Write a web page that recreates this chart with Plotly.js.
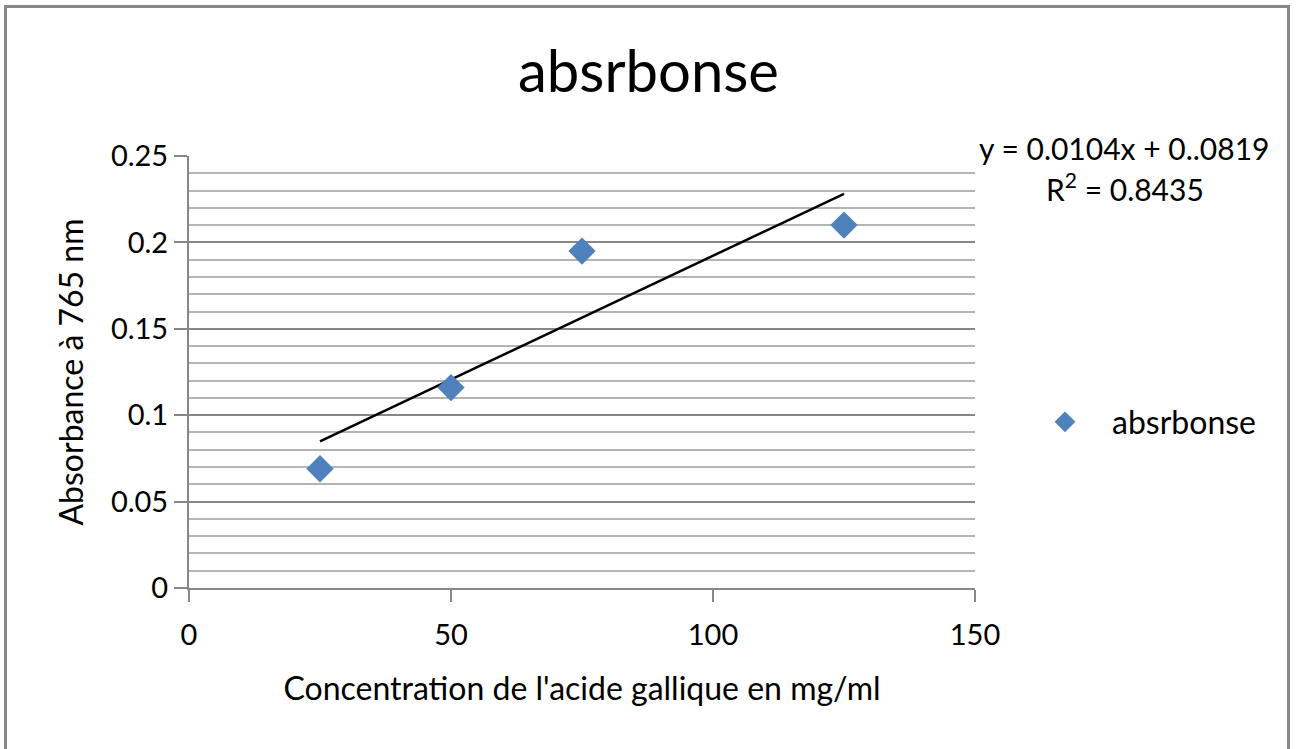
<!DOCTYPE html>
<html>
<head>
<meta charset="utf-8">
<script src="https://cdn.plot.ly/plotly-3.0.1.min.js"></script>
<style>
html,body{margin:0;padding:0;background:#fff;}
#wrap{position:relative;width:1297px;height:749px;}
#chart{width:1297px;height:749px;}
#frame{position:absolute;left:4px;top:5px;width:1280px;height:746px;border:3px solid #888;border-bottom:2px solid #ddd;pointer-events:none;}
</style>
</head>
<body>
<div id="wrap"><div id="chart"></div><div id="frame"></div></div>
<script>
const seriesName = 'absrbonse';
const concentration = [25, 50, 75, 125];
const absorbance = [0.069, 0.116, 0.195, 0.210];
const equationText = 'y = 0.0104x + 0..0819';
const r2Text = 'R<sup>2</sup> = 0.8435';
const chartTitle = 'absrbonse';
const xTitle = "Concentration de l'acide gallique en mg/ml";
const yTitle = 'Absorbance à 765 nm';

// least squares linear trendline from the data
const n = concentration.length;
const mx = concentration.reduce((a,b)=>a+b,0)/n;
const my = absorbance.reduce((a,b)=>a+b,0)/n;
let sxy=0, sxx=0;
for(let i=0;i<n;i++){sxy+=(concentration[i]-mx)*(absorbance[i]-my);sxx+=(concentration[i]-mx)**2;}
const slope = sxy/sxx, intercept = my - slope*mx;
const xMin = Math.min(...concentration), xMax = Math.max(...concentration);
const trendX = [xMin, xMax];
const trendY = trendX.map(x=>slope*x+intercept);

const FONT = 'Lato, "Open Sans", sans-serif';
const data = [
  {x: trendX, y: trendY, mode:'lines', line:{color:'#000', width:2.5}, showlegend:false, hoverinfo:'skip'},
  {x: concentration, y: absorbance, mode:'markers', name: seriesName,
   marker:{symbol:'diamond', size:21, color:'#4f81bd'}}
];
const layout = {
  width:1297, height:749,
  margin:{l:189, r:322, t:156, b:161},
  paper_bgcolor:'#fff', plot_bgcolor:'#fff',
  font:{family:FONT, color:'#000', size:30},
  title:{text:chartTitle, font:{size:58, family:FONT}, x:0.5, xref:'container', xanchor:'center', y:0.904, yanchor:'middle'},
  xaxis:{range:[0,150], dtick:50, tick0:0, showgrid:false, zeroline:false,
    showline:true, linecolor:'#878787', linewidth:2,
    ticks:'outside', ticklen:12, tickwidth:2, tickcolor:'#878787',
    tickfont:{size:29}, ticklabelstandoff:8,
    title:{text:xTitle, font:{size:32}, standoff:28}},
  yaxis:{range:[0,0.25], dtick:0.05, tick0:0, zeroline:false,
    showgrid:true, gridcolor:'#878787', gridwidth:2,
    showline:true, linecolor:'#878787', linewidth:2,
    ticks:'outside', ticklen:13, tickwidth:2, tickcolor:'#878787',
    tickfont:{size:29},
    minor:{dtick:0.01, showgrid:true, gridcolor:'#b4b4b4', gridwidth:2, ticks:''},
    title:{text:yTitle, font:{size:32}, standoff:18}},
  legend:{x:(1018-189)/786, xref:'paper', xanchor:'left', y:(588-422)/432, yanchor:'middle', font:{size:32}, itemwidth:84, bgcolor:'rgba(0,0,0,0)'},
  annotations:[
    {text:equationText, xref:'paper', yref:'paper', x:(1124-189)/786, y:(588-148)/432, xanchor:'center', yanchor:'middle', showarrow:false, font:{size:30}},
    {text:r2Text, xref:'paper', yref:'paper', x:(1125-189)/786, y:(588-187)/432, xanchor:'center', yanchor:'middle', showarrow:false, font:{size:30}}
  ]
};
Plotly.newPlot('chart', data, layout, {displayModeBar:false, staticPlot:true});
</script>
</body>
</html>
